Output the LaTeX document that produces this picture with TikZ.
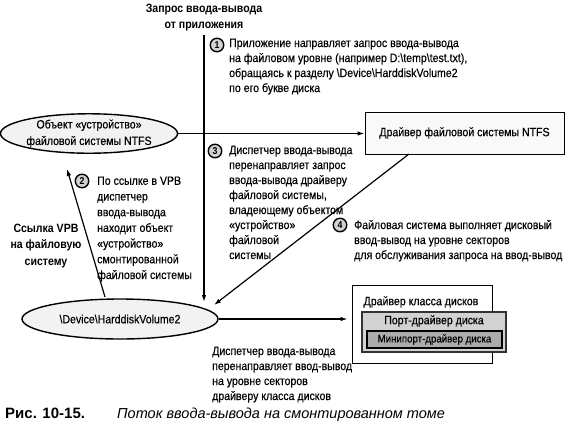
\documentclass[tikz,border=0pt]{standalone}
\usepackage{fontspec}
\setmainfont{Liberation Sans}[FakeStretch=0.88, UprightFeatures={FakeBold=0.4}]
\newfontfamily\capfont{Liberation Sans}
\usetikzlibrary{arrows.meta,shapes.geometric}
\begin{document}
\begin{tikzpicture}[x=1pt,y=-1pt,
  every node/.style={inner sep=0pt},
  txt/.style={anchor=base west, align=left, font=\fontsize{12}{15}\selectfont},
  btxt/.style={anchor=base, align=center, font=\fontsize{12}{16.5}\selectfont\bfseries},
  ell/.style={ellipse, draw, line width=1.4pt, fill=gray!10, align=center, font=\fontsize{12}{16.5}\selectfont},
  boxn/.style={rectangle, draw, line width=1pt, align=center, font=\fontsize{12}{15}\selectfont},
  stepnum/.style={circle, draw, line width=1.4pt, fill=gray!35, minimum size=13.5pt, font=\fontsize{10}{10}\selectfont\bfseries},
  arr/.style={line width=1.2pt, -{Latex[length=7pt,width=4.5pt]}}
]
\useasboundingbox (0,0) rectangle (570,424);

% title (base = last line)
\node[btxt] (title) at (204,28.5) {Запрос ввода-вывода\\от приложения};

% ellipses and boxes
\node[ell, minimum width=162pt, minimum height=39pt] (fsobj) at (89,133.5) {Объект «устройство»\\файловой системы NTFS};
\node[ell, minimum width=196pt, minimum height=40pt] (vol) at (120,319) {\textbackslash Device\textbackslash HarddiskVolume2};
\node[boxn, fill=gray!5, minimum width=199pt, minimum height=42pt] (ntfs) at (464.5,133) {Драйвер файловой системы NTFS};

\node[boxn, fill=white, minimum width=140pt, minimum height=78pt] (cls) at (422,324) {};
\node[font=\fontsize{12}{15}\selectfont] (clst) at (421,302) {Драйвер класса дисков};
\node[boxn, fill=gray!35, draw=black!80, line width=1.2pt, minimum width=144pt, minimum height=40pt] (port) at (434,332) {};
\node[font=\fontsize{12}{15}\selectfont] (portt) at (434,321) {Порт-драйвер диска};
\node[boxn, fill=gray!65, line width=1.4pt, minimum width=135pt, minimum height=17pt, font=\fontsize{11}{13}\selectfont] (mini) at (434.5,339.5) {Минипорт-драйвер диска};

% circled numbers
\node[stepnum] (n1) at (217,45) {1};
\node[stepnum] (n2) at (82,181) {2};
\node[stepnum] (n3) at (215,151) {3};
\node[stepnum] (n4) at (340,225) {4};

% texts (anchored at the baseline of their last line)
\node[txt] (t1) at (229,92) {Приложение направляет запрос ввода-вывода\\на файловом уровне (например D:\textbackslash temp\textbackslash test.txt),\\обращаясь к разделу \textbackslash Device\textbackslash HarddiskVolume2\\по его букве диска};
\node[txt] (t3) at (229,259) {Диспетчер ввода-вывода\\перенаправляет запрос\\ввода-вывода драйверу\\файловой системы,\\владеющему объектом\\«устройство»\\файловой\\системы};
\node[txt, font=\fontsize{12}{15.7}\selectfont] (t2) at (97,279) {По ссылке в VPB\\диспетчер\\ввода-вывода\\находит объект\\«устройство»\\смонтированной\\файловой системы};
\node[txt] (t4) at (354,259) {Файловая система выполняет дисковый\\ввод-вывод на уровне секторов\\для обслуживания запроса на ввод-вывод};
\node[txt] (t5) at (212,400) {Диспетчер ввода-вывода\\перенаправляет ввод-вывод\\на уровне секторов\\драйверу класса дисков};
\node[btxt] (vpb) at (46,265) {Ссылка VPB\\на файловую\\систему};

% caption
\node[anchor=base west, font=\capfont\fontsize{15}{15}\selectfont\bfseries] (capn) at (5,418) {Рис. 10-15.};
\node[anchor=base west, font=\capfont\fontsize{14.5}{15}\selectfont\itshape] (capt) at (117,418) {Поток ввода-вывода на смонтированном томе};

% connectors
\coordinate (vtop) at (204,35);
\coordinate (vtip) at (204,302);
\coordinate (dstart) at (409,154);
\coordinate (dtip) at (214,305);
\coordinate (lstart) at (105,297);
\coordinate (ltip) at (67,169);
\draw[arr] (vtop) -- (vtip);
\draw[arr] (fsobj.east) -- (fsobj.east -| ntfs.west);
\draw[arr] (dstart) -- (dtip);
\draw[arr] (lstart) -- (ltip);
\draw[arr] (vol.east) -- ([xshift=-4pt]vol.east -| cls.west);
\end{tikzpicture}
\end{document}
